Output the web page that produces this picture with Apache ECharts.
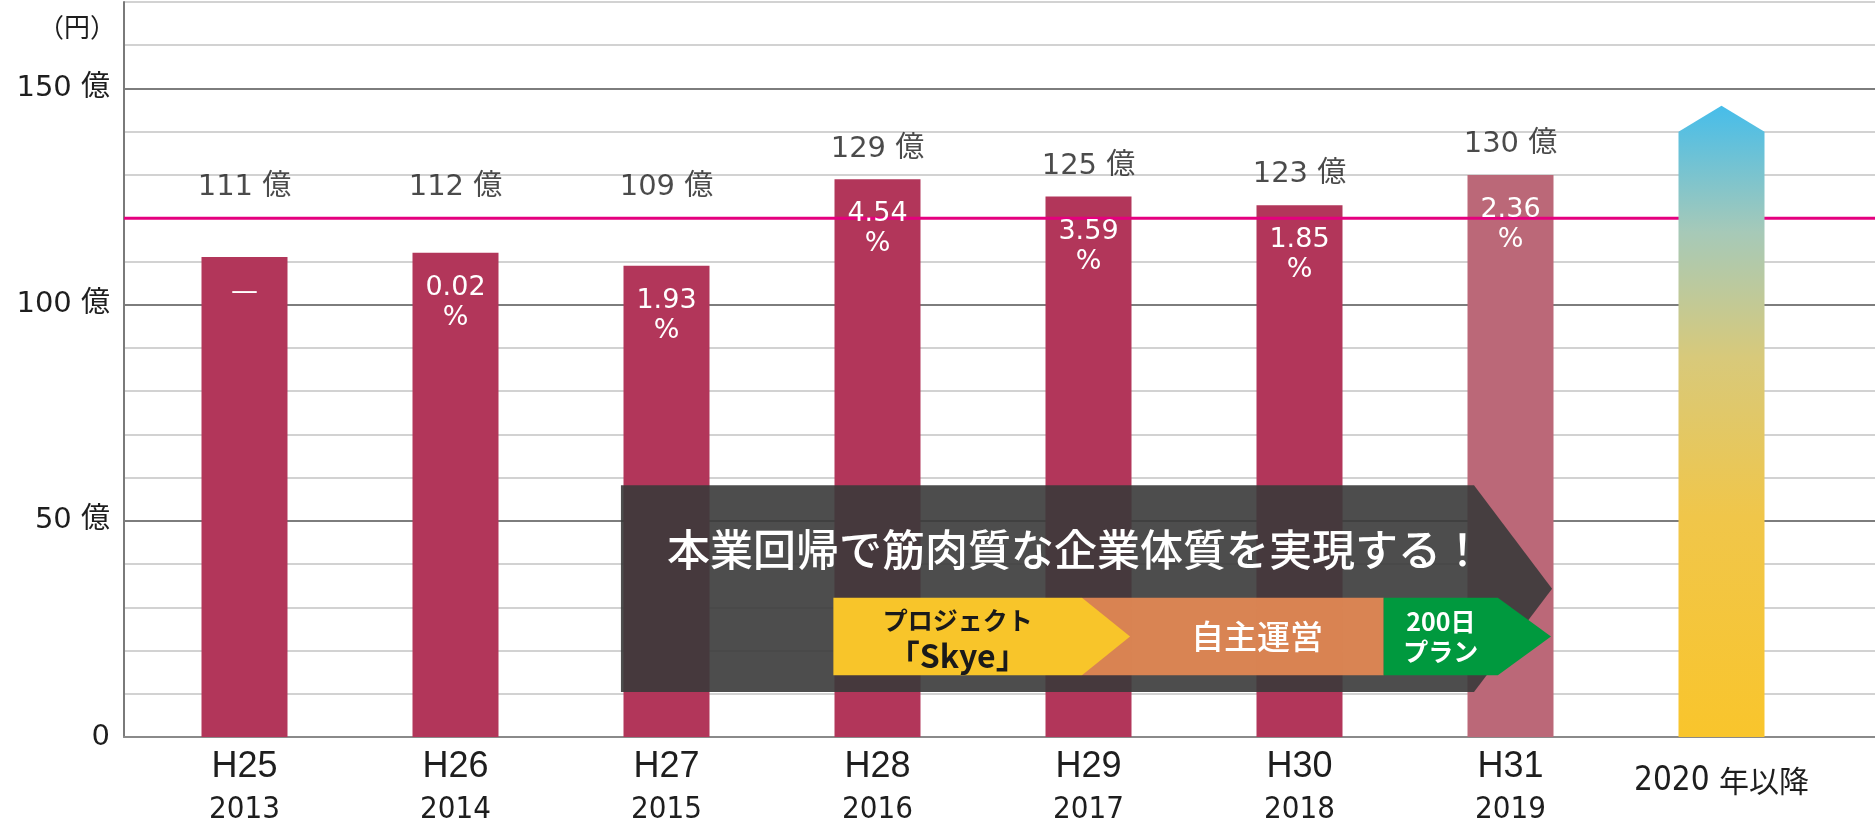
<!doctype html>
<html>
<head>
<meta charset="UTF-8">
<title>売上推移</title>
<style>
  html, body { margin: 0; padding: 0; background: #fff; }
  #chart { width: 1875px; height: 826px; }
</style>
</head>
<body>
<div id="chart"></div>
<script src="https://cdn.jsdelivr.net/npm/echarts@6.0.0/dist/echarts.min.js"></script>
<script>
// 年度
var eraLabels = ['H25', 'H26', 'H27', 'H28', 'H29', 'H30', 'H31', ''];
var yearLabels = ['2013', '2014', '2015', '2016', '2017', '2018', '2019', '2020 年以降'];
// 売上（億円）
var sales = [111, 112, 109, 129, 125, 123, 130, null];
// 伸び率（%）
var growthRates = ['—', '0.02', '1.93', '4.54', '3.59', '1.85', '2.36', null];
// 目標ライン
var targetLine = 120;
// 2020年以降の矢印 [肩, 先端]
var outlookArrow = [140, 146];
var yMax = 170;

var bannerText = '本業回帰で筋肉質な企業体質を実現する！';
var phaseLines = [['プロジェクト', '「Skye」'], ['自主運営'], ['200日', 'プラン']];

// 矢印の配置（カテゴリ番号・値の単位）
var bannerSpan = [1.784, 5.827, 6.197];   // 左端, 胴の終わり, 先端
var bannerRange = [10.4, 58.2];
var phaseSpans = [[2.791, 3.969, 4.197], [3.969, 5.399, 5.399], [5.399, 5.94, 6.192]];
var phaseRange = [14.3, 32.2];

var barColor = '#b2365a';
var barColorLast = '#bb6878';
var phaseColors = ['#f8c52a', 'rgba(226,136,84,0.94)', '#00993e'];
var phaseTextColors = ['#1a1a1a', '#ffffff', '#ffffff'];
var phaseFonts = [['bold 25px', 'bold 32px'], ['500 33px'], ['bold 25px', 'bold 25px']];
var phaseZ = [3, 1, 2];
var jp = '"Noto Sans CJK JP"';
var narrow = '"Liberation Sans Narrow", "DejaVu Sans Condensed", sans-serif';

// カテゴリ番号(小数可)をピクセルへ
function toPixel(api, pos, v) {
	var p0 = api.coord([0, v]);
	var band = api.size([1, 0])[0];
	return [p0[0] + pos * band, p0[1]];
}

function renderBanner(params, api) {
	var top = toPixel(api, bannerSpan[0], bannerRange[1]);
	var bot = toPixel(api, bannerSpan[0], bannerRange[0]);
	var xEnd = toPixel(api, bannerSpan[1], 0)[0];
	var xTip = toPixel(api, bannerSpan[2], 0)[0];
	var midY = (top[1] + bot[1]) / 2;
	return {
		type: 'group',
		children: [{
			type: 'polygon',
			shape: { points: [[top[0], top[1]], [xEnd, top[1]], [xTip, midY], [xEnd, bot[1]], [bot[0], bot[1]]] },
			style: { fill: 'rgba(58,58,58,0.9)' }
		}, {
			type: 'text',
			style: {
				text: bannerText, x: (top[0] + xEnd) / 2 + 28, y: top[1] + 64,
				fill: '#fff', font: '500 43px ' + jp, align: 'center', verticalAlign: 'middle'
			}
		}]
	};
}

function renderPhase(params, api) {
	var i = params.dataIndex;
	var s = phaseSpans[i];
	var top = toPixel(api, s[0], phaseRange[1]);
	var bot = toPixel(api, s[0], phaseRange[0]);
	var xEnd = toPixel(api, s[1], 0)[0];
	var xTip = toPixel(api, s[2], 0)[0];
	var midY = (top[1] + bot[1]) / 2;
	var visStart = i > 0 ? toPixel(api, phaseSpans[i - 1][2], 0)[0] : top[0];
	var cx = (visStart + xEnd) / 2;
	var children = [{
		type: 'polygon',
		z2: phaseZ[i],
		shape: { points: [[top[0], top[1]], [xEnd, top[1]], [xTip, midY], [xEnd, bot[1]], [bot[0], bot[1]]] },
		style: { fill: phaseColors[i] }
	}];
	var lines = phaseLines[i];
	var offsets = lines.length === 1 ? [0] : (i === 0 ? [-16, 19] : [-15, 15]);
	for (var k = 0; k < lines.length; k++) {
		children.push({
			type: 'text',
			z2: 10,
			style: {
				text: lines[k], x: cx, y: midY + offsets[k],
				fill: phaseTextColors[i], font: phaseFonts[i][k] + ' ' + jp,
				align: 'center', verticalAlign: 'middle'
			}
		});
	}
	return { type: 'group', children: children };
}

function renderOutlook(params, api) {
	var base = api.coord([api.value(0), 0]);
	var sh = api.coord([api.value(0), api.value(1)]);
	var tip = api.coord([api.value(0), api.value(2)]);
	var w = 43;
	return {
		type: 'polygon',
		shape: { points: [[base[0] - w, base[1]], [base[0] - w, sh[1]], [base[0], tip[1]], [base[0] + w, sh[1]], [base[0] + w, base[1]]] },
		style: {
			fill: new echarts.graphic.LinearGradient(0, 0, 0, 1, [
				{ offset: 0, color: '#46bdea' },
				{ offset: 0.2, color: '#a6c9b8' },
				{ offset: 0.4, color: '#d8c97a' },
				{ offset: 0.65, color: '#f0c64a' },
				{ offset: 1, color: '#f9c52c' }
			])
		}
	};
}

var labelPoints = [];
sales.forEach(function (v, i) {
	if (v != null) labelPoints.push([i, Math.max(v + 7, 127)]);
});

var option = {
	animation: false,
	grid: [
		{ left: 124, right: 0, top: 2, bottom: 89, containLabel: false, outerBoundsMode: 'none' },
		{ left: 139, right: 48, top: 2, bottom: 89, containLabel: false, outerBoundsMode: 'none' }
	],
	xAxis: [{
		gridIndex: 0, type: 'value', min: 0, max: 1,
		axisLine: { show: true, lineStyle: { color: '#8a8a8a', width: 2 } },
		axisTick: { show: false }, axisLabel: { show: false }, splitLine: { show: false }
	}, {
		gridIndex: 1, type: 'category', data: yearLabels,
		axisLine: { show: false }, axisTick: { show: false },
		axisLabel: {
			interval: 0, margin: 8,
			formatter: function (v, i) {
				if (eraLabels[i]) return '{era|' + eraLabels[i] + '}\n{year|' + yearLabels[i] + '}';
				var parts = yearLabels[i].split(' ');
				return '{fy|' + parts[0] + ' }{fj|' + parts[1] + '}';
			},
			rich: {
				era: { fontSize: 36, fontFamily: '"Liberation Sans", sans-serif', color: '#1e1e1e', lineHeight: 44 },
				year: { fontSize: 31, fontFamily: narrow, color: '#1e1e1e', lineHeight: 42 },
				fy: { fontSize: 33, fontFamily: narrow, color: '#1e1e1e', lineHeight: 72 },
				fj: { fontSize: 30, fontFamily: jp, color: '#1e1e1e', lineHeight: 72 }
			}
		}
	}],
	yAxis: [{
		gridIndex: 0, type: 'value', min: 0, max: yMax, interval: 10,
		name: '（円）', nameLocation: 'end', nameGap: -25,
		nameTextStyle: { align: 'right', verticalAlign: 'middle', padding: [0, 8, 0, 0], fontSize: 26, fontFamily: jp, color: '#1e1e1e' },
		axisLine: { show: true, lineStyle: { color: '#7a7a7a', width: 2 } },
		axisTick: { show: false },
		axisLabel: {
			margin: 14, fontSize: 29, color: '#1e1e1e', fontFamily: '"DejaVu Sans", ' + jp,
			formatter: function (v) {
				if (v % 50 !== 0) return '';
				return v === 0 ? '0' : v + ' 億';
			}
		},
		splitLine: { show: true, lineStyle: { width: 2, color: ['#7d7d7d', '#d2d2d2', '#d2d2d2', '#d2d2d2', '#d2d2d2'] } }
	}, {
		gridIndex: 1, type: 'value', min: 0, max: yMax, show: false
	}],
	series: [{
		// 売上
		type: 'bar', xAxisIndex: 1, yAxisIndex: 1, z: 2,
		data: sales, barWidth: 86, barGap: '-100%',
		itemStyle: {
			color: function (p) { return p.dataIndex === 6 ? barColorLast : barColor; }
		}
	}, {
		// 目標ライン
		type: 'line', xAxisIndex: 0, yAxisIndex: 0, z: 3, silent: true,
		data: [[0, targetLine], [1, targetLine]], symbol: 'none',
		lineStyle: { color: '#e5007f', width: 3 }
	}, {
		// 伸び率ラベル
		type: 'bar', xAxisIndex: 1, yAxisIndex: 1, z: 4, silent: true,
		data: sales, barWidth: 86, barGap: '-100%',
		itemStyle: { color: 'rgba(0,0,0,0)' },
		label: {
			show: true, position: 'insideTop', distance: 20,
			fontSize: 27, lineHeight: 30, color: '#fff', fontFamily: '"DejaVu Sans", sans-serif',
			formatter: function (p) {
				var g = growthRates[p.dataIndex];
				if (g == null) return '';
				return g === '—' ? g : g + '\n%';
			}
		}
	}, {
		// 売上ラベル
		type: 'scatter', xAxisIndex: 1, yAxisIndex: 1, z: 4, silent: true,
		data: labelPoints, symbolSize: 1,
		itemStyle: { color: 'rgba(0,0,0,0)' },
		label: {
			show: true, position: 'inside', fontSize: 29, color: '#1e1e1e',
			fontFamily: '"DejaVu Sans", ' + jp,
			formatter: function (p) { return sales[p.data[0]] + ' 億'; }
		}
	}, {
		// 2020年以降
		type: 'custom', xAxisIndex: 1, yAxisIndex: 1, z: 5, silent: true,
		data: [[sales.length - 1, outlookArrow[0], outlookArrow[1]]],
		renderItem: renderOutlook
	}, {
		type: 'custom', xAxisIndex: 1, yAxisIndex: 1, z: 6, silent: true,
		data: [0], renderItem: renderBanner
	}, {
		type: 'custom', xAxisIndex: 1, yAxisIndex: 1, z: 7, silent: true,
		data: [0, 1, 2], renderItem: renderPhase
	}]
};

var chart = echarts.init(document.getElementById('chart'));
chart.setOption(option);
</script>
</body>
</html>
